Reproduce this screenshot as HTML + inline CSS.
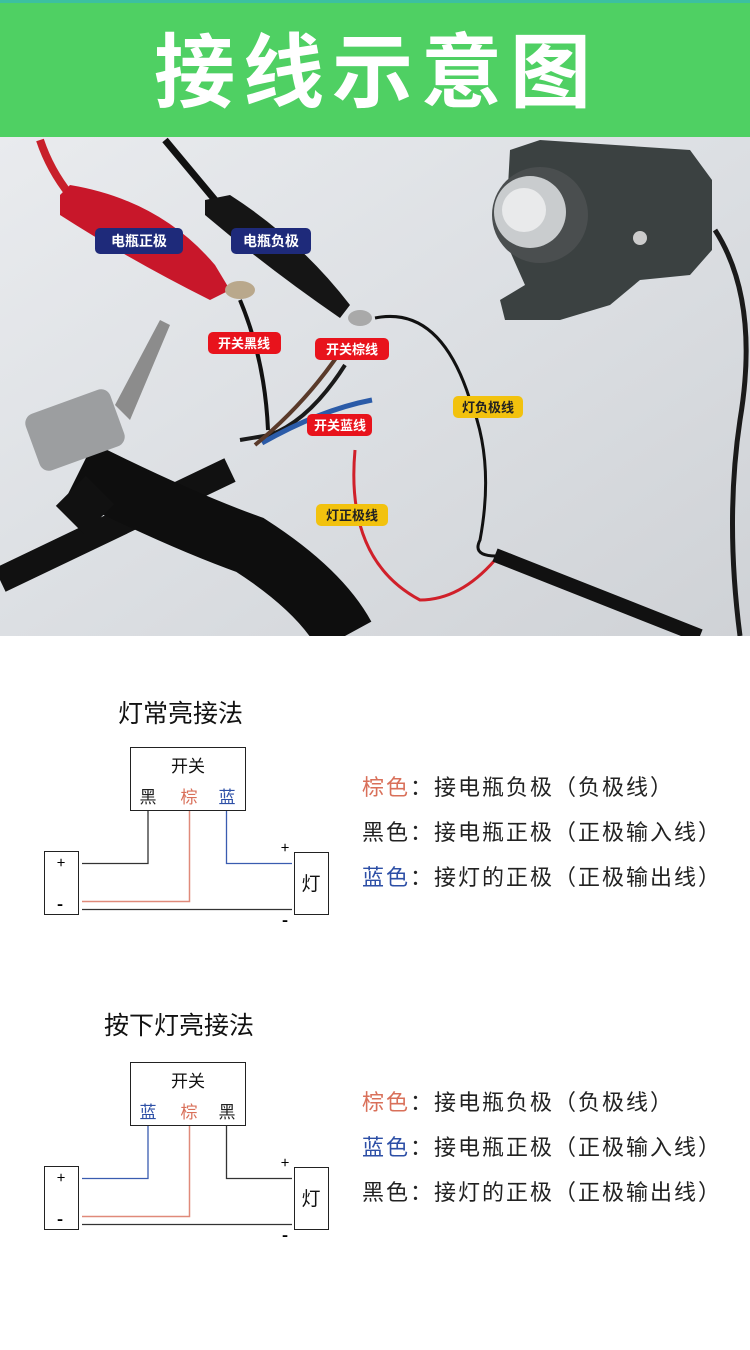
<!DOCTYPE html>
<html><head><meta charset="utf-8"><style>
html,body{margin:0;padding:0;background:#fff;}
body{width:750px;height:1350px;position:relative;overflow:hidden;font-family:"Liberation Sans","Noto Sans CJK SC",sans-serif;}
.hdr{position:absolute;left:0;top:0;width:750px;height:137px;background:#4fd063;border-top:3px solid #3cc0a0;box-sizing:border-box;}
.hdr div{position:absolute;left:154px;top:14px;font-size:81px;font-weight:bold;color:#fff;letter-spacing:8px;line-height:100px;font-family:"Noto Sans CJK SC",sans-serif;}
.t{position:absolute;font-family:"Noto Sans CJK SC",sans-serif;}
.ttl{font-size:25px;color:#111;}
.desc{left:362px;font-size:22px;color:#222;letter-spacing:2px;line-height:30px;}
</style></head><body>
<div class="hdr"><div>接线示意图</div></div>
<svg style="position:absolute;left:0;top:137px" width="750" height="499" viewBox="0 137 750 499">
<defs><linearGradient id="bg" x1="0" y1="0" x2="1" y2="1"><stop offset="0" stop-color="#e9ebee"/><stop offset="0.5" stop-color="#dcdfe3"/><stop offset="1" stop-color="#cfd2d6"/></linearGradient></defs>
<rect x="0" y="137" width="750" height="499" fill="url(#bg)"/>
<path d="M40 140 Q50 170 70 195" stroke="#c8202a" stroke-width="8" fill="none"/>
<path d="M60 195 L70 185 Q160 200 215 265 L230 290 L210 300 Q130 260 60 215 Z" fill="#c8172a"/>
<ellipse cx="240" cy="290" rx="15" ry="9" fill="#b9a88c"/>
<path d="M165 140 Q190 170 215 200" stroke="#111" stroke-width="7" fill="none"/>
<path d="M205 200 L230 195 Q300 240 350 305 L340 318 Q270 270 205 215 Z" fill="#151515"/>
<ellipse cx="360" cy="318" rx="12" ry="8" fill="#a9a9a9"/>
<path d="M0 580 L230 470" stroke="#111" stroke-width="26" fill="none"/>
<path d="M80 470 Q180 520 250 545 Q320 590 345 636" stroke="#0e0e0e" stroke-width="60" fill="none"/>
<path d="M100 490 L70 520" stroke="#111" stroke-width="40"/>
<rect x="30" y="400" width="90" height="60" rx="10" fill="#9c9ea0" transform="rotate(-20 75 430)"/>
<path d="M115 405 L160 320 L170 325 L130 420 Z" fill="#8c8c8c"/>
<path d="M240 440 L270 435 Q310 420 345 365" stroke="#1a1a1a" stroke-width="4" fill="none"/>
<path d="M262 443 Q320 410 372 400" stroke="#2b5ba8" stroke-width="5" fill="none"/>
<path d="M255 445 Q310 400 348 340" stroke="#5a3a2a" stroke-width="4" fill="none"/>
<path d="M240 300 Q265 360 268 430" stroke="#111" stroke-width="4" fill="none"/>
<path d="M375 318 Q440 305 470 400 Q495 460 480 540 Q470 560 510 555 L690 636" stroke="#111" stroke-width="3" fill="none"/>
<path d="M355 450 Q345 560 420 600 Q460 600 495 560" stroke="#d0202a" stroke-width="3" fill="none"/>
<path d="M495 555 L700 636" stroke="#111" stroke-width="14" fill="none"/>
<path d="M715 230 Q760 300 740 420 Q725 520 740 636" stroke="#1a1a1a" stroke-width="5" fill="none"/>
<path d="M510 150 L540 140 L690 150 L712 180 L712 250 L690 275 L640 280 L610 305 L560 320 L505 320 L500 300 L525 285 L505 240 Z" fill="#3b4141"/>
<circle cx="540" cy="215" r="48" fill="#4a4e4f"/>
<circle cx="530" cy="212" r="36" fill="#c9ccce"/>
<circle cx="524" cy="210" r="22" fill="#e9eaeb"/>
<circle cx="640" cy="238" r="7" fill="#ccc"/>
<g font-family="Noto Sans CJK SC,sans-serif" font-weight="bold" font-size="14">
<rect x="95" y="228" width="88" height="26" rx="5" fill="#1e2a7a"/><text x="139" y="246" fill="#fff" text-anchor="middle">电瓶正极</text>
<rect x="231" y="228" width="80" height="26" rx="5" fill="#1e2a7a"/><text x="271" y="246" fill="#fff" text-anchor="middle">电瓶负极</text>
<rect x="208" y="332" width="73" height="22" rx="5" fill="#e8131c"/><text x="244" y="348" fill="#fff" font-size="13" text-anchor="middle">开关黑线</text>
<rect x="315" y="338" width="74" height="22" rx="5" fill="#e8131c"/><text x="352" y="354" fill="#fff" font-size="13" text-anchor="middle">开关棕线</text>
<rect x="307" y="414" width="65" height="22" rx="5" fill="#e8131c"/><text x="340" y="430" fill="#fff" font-size="13" text-anchor="middle">开关蓝线</text>
<rect x="453" y="396" width="70" height="22" rx="5" fill="#f2c20e"/><text x="488" y="412" fill="#222" font-size="13" text-anchor="middle">灯负极线</text>
<rect x="316" y="504" width="72" height="22" rx="5" fill="#f2c20e"/><text x="352" y="520" fill="#222" font-size="13" text-anchor="middle">灯正极线</text>
</g>
</svg>

<div class="t ttl" style="left:118px;top:694px">灯常亮接法</div>
<div class="t ttl" style="left:104px;top:1006px">按下灯亮接法</div>

<svg style="position:absolute;left:0;top:0" width="750" height="1350">
<g font-family="Noto Sans CJK SC,sans-serif" font-size="17">
<rect x="130.5" y="747.5" width="115" height="63" fill="#fff" stroke="#222"/>
<text x="188" y="772" text-anchor="middle" fill="#111">开关</text>
<text x="148" y="803" text-anchor="middle" fill="#222">黑</text>
<text x="189" y="803" text-anchor="middle" fill="#d9705a">棕</text>
<text x="227" y="803" text-anchor="middle" fill="#2d4fa6">蓝</text>
<rect x="44.5" y="851.5" width="34" height="63" fill="#fff" stroke="#222"/>
<rect x="294.5" y="852.5" width="34" height="62" fill="#fff" stroke="#222"/>
<text x="311" y="890" text-anchor="middle" fill="#111" font-size="19">灯</text>
<polyline points="148,811 148,863.5 82,863.5" fill="none" stroke="#333" stroke-width="1.3"/>
<polyline points="189.5,811 189.5,901.5 82,901.5" fill="none" stroke="#e08a7a" stroke-width="1.5"/>
<polyline points="226.5,811 226.5,863.5 292,863.5" fill="none" stroke="#3a5cb0" stroke-width="1.3"/>
<line x1="82" y1="909.5" x2="292" y2="909.5" stroke="#333" stroke-width="1.3"/>
<text x="61" y="868" text-anchor="middle" font-size="15">+</text>
<text x="60" y="910" text-anchor="middle" font-size="17" font-weight="bold">-</text>
<text x="285" y="853" text-anchor="middle" font-size="15">+</text>
<text x="285" y="926" text-anchor="middle" font-size="17" font-weight="bold">-</text>
<g transform="translate(0,315)">
<rect x="130.5" y="747.5" width="115" height="63" fill="#fff" stroke="#222"/>
<text x="188" y="772" text-anchor="middle" fill="#111">开关</text>
<text x="148" y="803" text-anchor="middle" fill="#2d4fa6">蓝</text>
<text x="189" y="803" text-anchor="middle" fill="#d9705a">棕</text>
<text x="227" y="803" text-anchor="middle" fill="#222">黑</text>
<rect x="44.5" y="851.5" width="34" height="63" fill="#fff" stroke="#222"/>
<rect x="294.5" y="852.5" width="34" height="62" fill="#fff" stroke="#222"/>
<text x="311" y="890" text-anchor="middle" fill="#111" font-size="19">灯</text>
<polyline points="148,811 148,863.5 82,863.5" fill="none" stroke="#3a5cb0" stroke-width="1.3"/>
<polyline points="189.5,811 189.5,901.5 82,901.5" fill="none" stroke="#e08a7a" stroke-width="1.5"/>
<polyline points="226.5,811 226.5,863.5 292,863.5" fill="none" stroke="#333" stroke-width="1.3"/>
<line x1="82" y1="909.5" x2="292" y2="909.5" stroke="#333" stroke-width="1.3"/>
<text x="61" y="868" text-anchor="middle" font-size="15">+</text>
<text x="60" y="910" text-anchor="middle" font-size="17" font-weight="bold">-</text>
<text x="285" y="853" text-anchor="middle" font-size="15">+</text>
<text x="285" y="926" text-anchor="middle" font-size="17" font-weight="bold">-</text>
</g>
</g>
</svg>

<div class="t desc" style="top:771px"><span style="color:#d9705a">棕色</span>：接电瓶负极（负极线）</div>
<div class="t desc" style="top:816px">黑色：接电瓶正极（正极输入线）</div>
<div class="t desc" style="top:861px"><span style="color:#2d4fa6">蓝色</span>：接灯的正极（正极输出线）</div>
<div class="t desc" style="top:1086px"><span style="color:#d9705a">棕色</span>：接电瓶负极（负极线）</div>
<div class="t desc" style="top:1131px"><span style="color:#2d4fa6">蓝色</span>：接电瓶正极（正极输入线）</div>
<div class="t desc" style="top:1176px">黑色：接灯的正极（正极输出线）</div>
</body></html>
